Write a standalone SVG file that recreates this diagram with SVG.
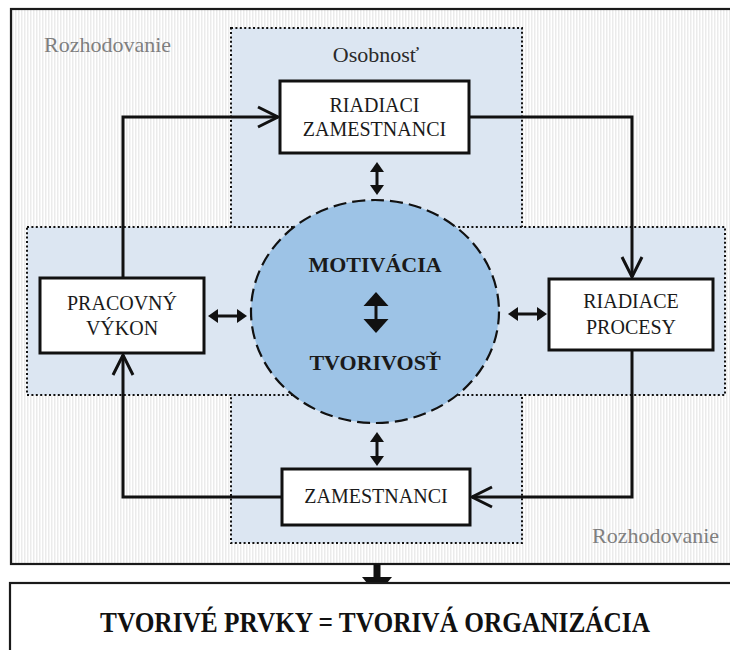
<svg xmlns="http://www.w3.org/2000/svg" width="730" height="650" viewBox="0 0 730 650">
  <defs>
    <style>
      text { font-family: "Liberation Serif", "Times New Roman", Times, "DejaVu Serif", serif; }
      .frame { stroke: #1a1a1a; stroke-width: 2.2; }
      .zone { fill: #dce6f2; stroke: #111; stroke-width: 2; stroke-dasharray: 2 2.4; }
      .box { fill: #fff; stroke: #111; stroke-width: 3; }
      .label { font-size: 20px; fill: #1a1a1a; text-anchor: middle; }
      .area { font-size: 22px; fill: #7f7f7f; }
      .core { font-size: 22px; font-weight: bold; fill: #1a1a1a; text-anchor: middle; }
      .flow { fill: none; stroke: #111; stroke-width: 3; }
      .link { fill: none; stroke: #111; stroke-width: 3; }
    </style>
    <pattern id="stripes" width="3" height="10" patternUnits="userSpaceOnUse">
      <rect width="3" height="10" fill="#ffffff"/>
      <rect width="1.5" height="10" fill="#ebebeb"/>
    </pattern>
    <marker id="chevron" markerUnits="userSpaceOnUse" orient="auto" overflow="visible" refX="0" refY="0" markerWidth="1" markerHeight="1">
      <path d="M-20,-10 L0,0 L-20,10" fill="none" stroke="#111" stroke-width="3"/>
    </marker>
    <marker id="tri" markerUnits="userSpaceOnUse" orient="auto-start-reverse" overflow="visible" refX="0" refY="0" markerWidth="1" markerHeight="1">
      <path d="M-2,-7 L8,0 L-2,7 Z" fill="#111"/>
    </marker>
    <marker id="triBig" markerUnits="userSpaceOnUse" orient="auto-start-reverse" overflow="visible" refX="0" refY="0" markerWidth="1" markerHeight="1">
      <path d="M-2,-12.5 L12,0 L-2,12.5 Z" fill="#111"/>
    </marker>
  </defs>

  <!-- decision frame -->
  <rect class="frame" x="11" y="9" width="740" height="555" fill="url(#stripes)"/>

  <!-- personality cross: vertical band, then horizontal band on top -->
  <rect class="zone" x="231" y="28" width="291" height="515"/>
  <rect class="zone" x="27" y="227" width="698" height="168"/>

  <g font-family="Liberation Serif, Times New Roman, serif">
    <text class="area" x="44" y="52">Rozhodovanie</text>
    <text class="area" x="592" y="543">Rozhodovanie</text>
    <text class="area" x="376" y="62" text-anchor="middle" style="fill:#2a2a2a">Osobnosť</text>
  </g>

  <!-- centre -->
  <g id="center" font-family="Liberation Serif, Times New Roman, serif">
    <ellipse cx="375" cy="311.5" rx="124" ry="111.5" fill="#9dc3e6" stroke="#111" stroke-width="2.2" stroke-dasharray="13 6"/>
    <text class="core" x="375" y="272">MOTIVÁCIA</text>
    <text class="core" x="375" y="370">TVORIVOSŤ</text>
  </g>

  <g id="connectors">
    <path class="flow" d="M123,278 V117 H278" marker-end="url(#chevron)"/>
    <path class="flow" d="M469,117 H632 V277" marker-end="url(#chevron)"/>
    <path class="flow" d="M632,351 V497 H472" marker-end="url(#chevron)"/>
    <path class="flow" d="M282,497 H123 V355" marker-end="url(#chevron)"/>

    <path class="link" d="M216,316 H239" marker-start="url(#tri)" marker-end="url(#tri)"/>
    <path class="link" d="M516,314 H539" marker-start="url(#tri)" marker-end="url(#tri)"/>
    <path class="link" d="M377,170 V187" marker-start="url(#tri)" marker-end="url(#tri)"/>
    <path class="link" d="M377,440 V458" marker-start="url(#tri)" marker-end="url(#tri)"/>
    <path class="link" d="M376,304 V321" stroke-width="6" marker-start="url(#triBig)" marker-end="url(#triBig)"/>

    <path d="M377,564 V578" stroke="#111" stroke-width="7" fill="none"/>
    <path d="M362,577 L392,577 L377,595 Z" fill="#111"/>
  </g>

  <g id="riadiaci-zamestnanci" font-family="Liberation Serif, Times New Roman, serif">
    <rect class="box" x="280" y="81" width="189" height="72"/>
    <text class="label" x="374.5" y="112">RIADIACI</text>
    <text class="label" x="374.5" y="136">ZAMESTNANCI</text>
  </g>

  <g id="pracovny-vykon" font-family="Liberation Serif, Times New Roman, serif">
    <rect class="box" x="40" y="278" width="164" height="75"/>
    <text class="label" x="122" y="310">PRACOVNÝ</text>
    <text class="label" x="122" y="335">VÝKON</text>
  </g>

  <g id="riadiace-procesy" font-family="Liberation Serif, Times New Roman, serif">
    <rect class="box" x="549" y="279" width="164" height="71"/>
    <text class="label" x="631" y="308">RIADIACE</text>
    <text class="label" x="631" y="334">PROCESY</text>
  </g>

  <g id="zamestnanci" font-family="Liberation Serif, Times New Roman, serif">
    <rect class="box" x="282" y="469" width="188" height="56"/>
    <text class="label" x="376" y="503">ZAMESTNANCI</text>
  </g>

  <g id="tvorive-prvky" font-family="Liberation Serif, Times New Roman, serif">
    <rect class="frame" x="10" y="583" width="740" height="80" fill="#fff"/>
    <text x="100" y="632" textLength="550" lengthAdjust="spacingAndGlyphs" font-size="29" font-weight="bold" fill="#111">TVORIVÉ PRVKY = TVORIVÁ ORGANIZÁCIA</text>
  </g>
</svg>
